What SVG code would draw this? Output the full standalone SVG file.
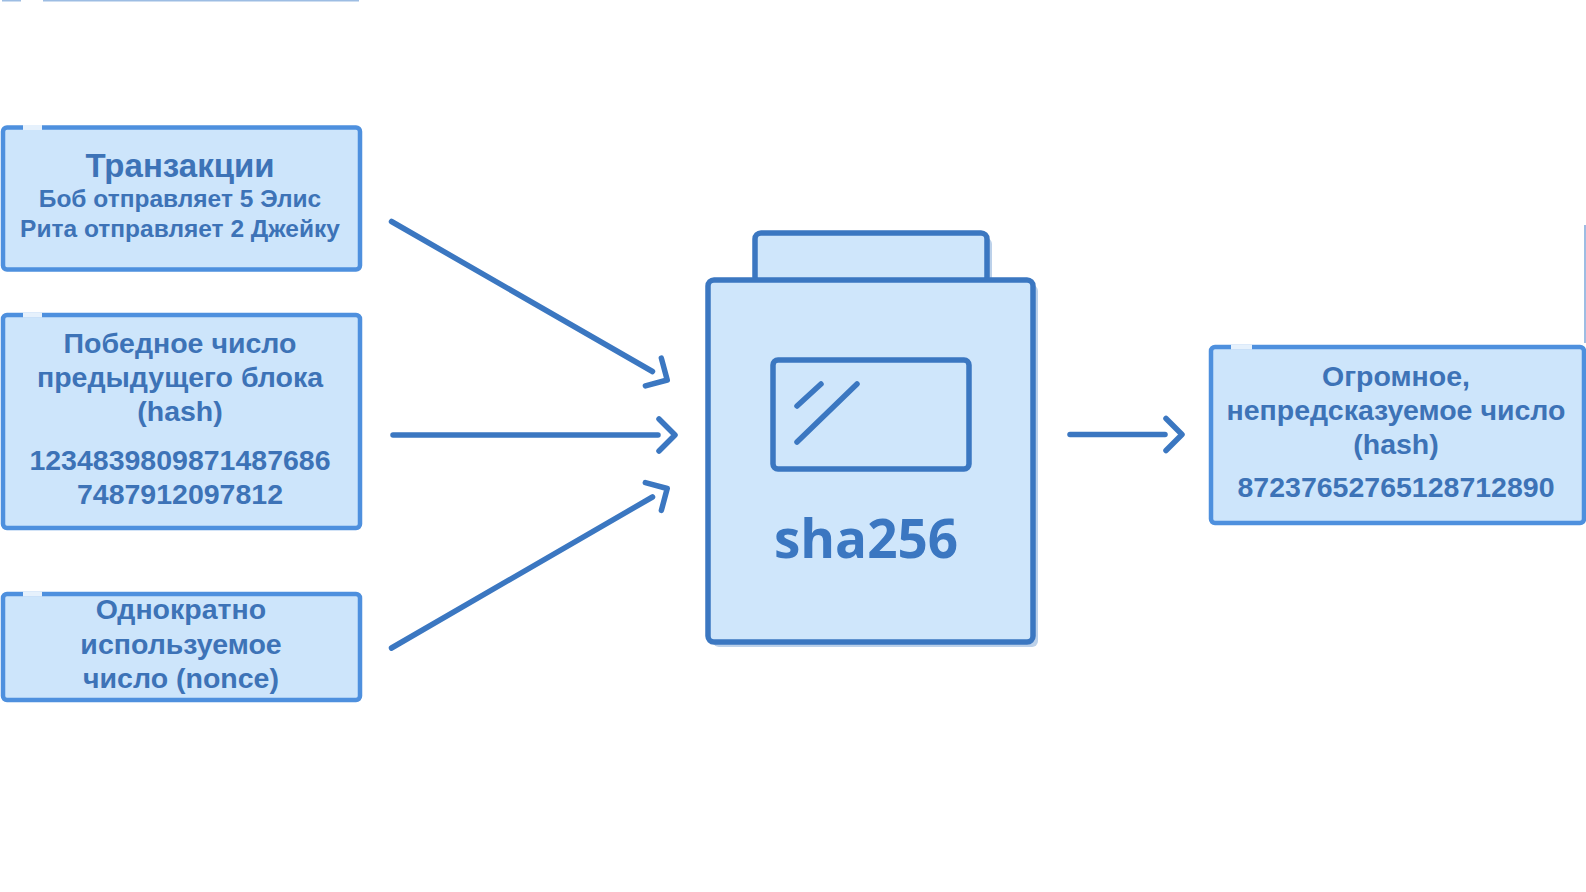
<svg xmlns="http://www.w3.org/2000/svg" width="1586" height="892" viewBox="0 0 1586 892">
<style>
.box{fill:#cde5fb;stroke:#4e90de;stroke-width:4.5}
.gap{stroke:#e6f1fc;stroke-width:5}
.t{font-family:"Liberation Sans",Arial,sans-serif;font-weight:bold;fill:#3d73b7;text-anchor:middle}
.m{fill:#cfe6fb;stroke:#3b77c1;stroke-width:5.5}
.sh{fill:#bcd1ea}
.ln{stroke:#3b77c1;stroke-width:5.5;stroke-linecap:round;fill:none}
.art{stroke:#9dbde3;stroke-width:2;fill:none}
</style>
<defs>
<marker id="chev" markerUnits="userSpaceOnUse" markerWidth="60" markerHeight="60" viewBox="-30 -30 60 60" refX="0" refY="0" orient="auto" overflow="visible">
<path d="M1,-16 L17,0 L1,16" fill="none" stroke="#3b77c1" stroke-width="5.5" stroke-linecap="round" stroke-linejoin="round"/>
</marker>
</defs>
<rect width="1586" height="892" fill="#ffffff"/>
<g id="artifacts">
<line class="art" x1="2" y1="0.5" x2="21" y2="0.5"/>
<line class="art" x1="43" y1="0.5" x2="359" y2="0.5"/>
<line class="art" x1="1585" y1="225" x2="1585" y2="343"/>
</g>
<g id="transactions">
<rect class="box" x="3" y="127.5" width="357" height="142" rx="4"/>
<line class="gap" x1="23" y1="127.5" x2="42" y2="127.5"/>
<text class="t" x="180" y="177" font-size="33">Транзакции</text>
<text class="t" x="180" y="207" font-size="24.5">Боб отправляет 5 Элис</text>
<text class="t" x="180" y="237" font-size="24.5">Рита отправляет 2 Джейку</text>
</g>
<g id="prev-hash">
<rect class="box" x="3" y="315" width="357" height="213" rx="4"/>
<line class="gap" x1="23" y1="315" x2="42" y2="315"/>
<text class="t" x="180" y="353" font-size="28.5">Победное число</text>
<text class="t" x="180" y="387" font-size="28.5">предыдущего блока</text>
<text class="t" x="180" y="421" font-size="28.5">(hash)</text>
<text class="t" x="180" y="470" font-size="28.5">1234839809871487686</text>
<text class="t" x="180" y="504" font-size="28.5">7487912097812</text>
</g>
<g id="nonce">
<rect class="box" x="3" y="594" width="357" height="106" rx="4"/>
<line class="gap" x1="23" y1="594" x2="42" y2="594"/>
<text class="t" x="181" y="619" font-size="28.5">Однократно</text>
<text class="t" x="181" y="654" font-size="28.5">используемое</text>
<text class="t" x="181" y="688" font-size="28.5">число (nonce)</text>
</g>
<g id="sha256">
<rect class="sh" x="760" y="238" width="232" height="50" rx="6"/>
<rect class="sh" x="713" y="285" width="325" height="362" rx="6"/>
<rect class="m" x="755" y="233" width="232" height="50" rx="6"/>
<rect class="m" x="708" y="280" width="325" height="362" rx="6"/>
<rect class="m" x="773" y="360" width="196" height="109" rx="5"/>
<line class="ln" x1="797" y1="406" x2="821" y2="384"/>
<line class="ln" x1="797" y1="442" x2="857" y2="384"/>
<text x="866" y="558" font-family="'Open Sans','Noto Sans',sans-serif" font-weight="bold" font-size="53" fill="#3b77c1" text-anchor="middle">sha256</text>
</g>
<g id="result">
<rect class="box" x="1211" y="347" width="373" height="176" rx="4"/>
<line class="gap" x1="1231" y1="347" x2="1252" y2="347"/>
<text class="t" x="1396" y="386" font-size="28.5">Огромное,</text>
<text class="t" x="1396" y="420" font-size="28.5">непредсказуемое число</text>
<text class="t" x="1396" y="454" font-size="28.5">(hash)</text>
<text class="t" x="1396" y="497" font-size="28.5">87237652765128712890</text>
</g>
<g id="connectors">
<line class="ln" x1="391.5" y1="221.5" x2="652.5" y2="371.5" marker-end="url(#chev)"/>
<line class="ln" x1="393" y1="435" x2="658" y2="435" marker-end="url(#chev)"/>
<line class="ln" x1="391.5" y1="648" x2="652.5" y2="497" marker-end="url(#chev)"/>
<line class="ln" x1="1070" y1="434.5" x2="1165" y2="434.5" marker-end="url(#chev)"/>
</g>
</svg>
